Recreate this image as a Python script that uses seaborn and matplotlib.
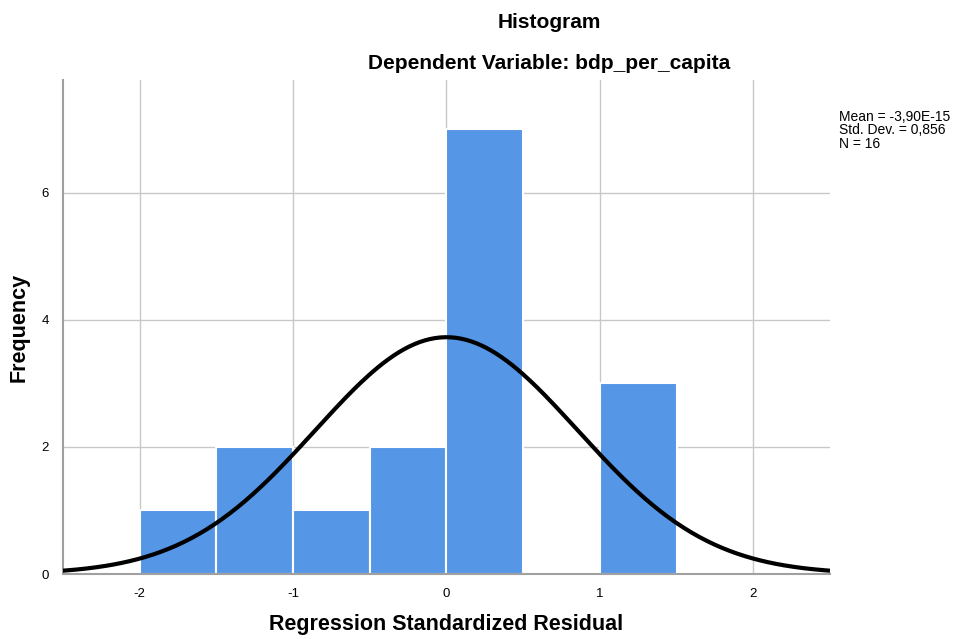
import numpy as np
import pandas as pd
import matplotlib
matplotlib.use('Agg')
import matplotlib.pyplot as plt
import seaborn as sns

# valores
bin_edges = [-2.0, -1.5, -1.0, -0.5, 0.0, 0.5, 1.0, 1.5]
contagens = [1, 2, 1, 2, 7, 0, 3]
media = -3.90e-15
desvio = 0.856
n = 16
xticks = [-2, -1, 0, 1, 2]
yticks = [0, 2, 4, 6]

sns.set_style('white')
plt.rcParams['font.family'] = ['Liberation Sans', 'DejaVu Sans']
plt.rcParams['axes.unicode_minus'] = False
plt.rcParams['text.color'] = 'black'
plt.rcParams['axes.labelcolor'] = 'black'

centros = [(a + b) / 2 for a, b in zip(bin_edges[:-1], bin_edges[1:])]
df = pd.DataFrame({'residuo': centros, 'freq': contagens})

fig = plt.figure(figsize=(9.55, 6.39), dpi=100)
ax = fig.add_axes([0.066, 0.1017, 0.803, 0.7733])

sns.histplot(data=df, x='residuo', weights='freq', bins=bin_edges, ax=ax,
             color='#5596E6', alpha=1, edgecolor='white', linewidth=1.5, zorder=2)

# curva normal
largura = bin_edges[1] - bin_edges[0]
xs = np.linspace(-2.5, 2.5, 300)
ys = n * largura * np.exp(-0.5 * ((xs - media) / desvio) ** 2) / (desvio * np.sqrt(2 * np.pi))
sns.lineplot(x=xs, y=ys, ax=ax, color='black', linewidth=3, zorder=3)

ax.set_xlim(-2.5, 2.5)
ax.set_ylim(0, 7.78)
ax.set_xticks(xticks)
ax.set_yticks(yticks)
ax.grid(True, color='#c8c8c8', linewidth=1, zorder=0)
ax.set_axisbelow(True)
for s in ['top', 'right']:
    ax.spines[s].set_visible(False)
ax.spines['left'].set_color('#a0a0a0')
ax.spines['bottom'].set_color('#a0a0a0')
ax.spines['left'].set_linewidth(1.5)
ax.spines['bottom'].set_linewidth(1.5)
ax.tick_params(length=0, labelsize=9.5, pad=10, labelcolor='black')
ax.set_xlabel('Regression Standardized Residual', fontsize=15.5, fontweight='bold', labelpad=10)
ax.set_ylabel('Frequency', fontsize=15.5, fontweight='bold', labelpad=9)

fig.text(0.575, 0.965, 'Histogram', ha='center', va='center', fontsize=15, fontweight='bold')
fig.text(0.575, 0.90, 'Dependent Variable: bdp_per_capita', ha='center', va='center',
         fontsize=15, fontweight='bold')
fig.text(0.879, 0.828, 'Mean = -3,90E-15\nStd. Dev. = 0,856\nN = 16', ha='left', va='top',
         fontsize=10, linespacing=0.95)

plt.savefig('out.png', dpi=100)
